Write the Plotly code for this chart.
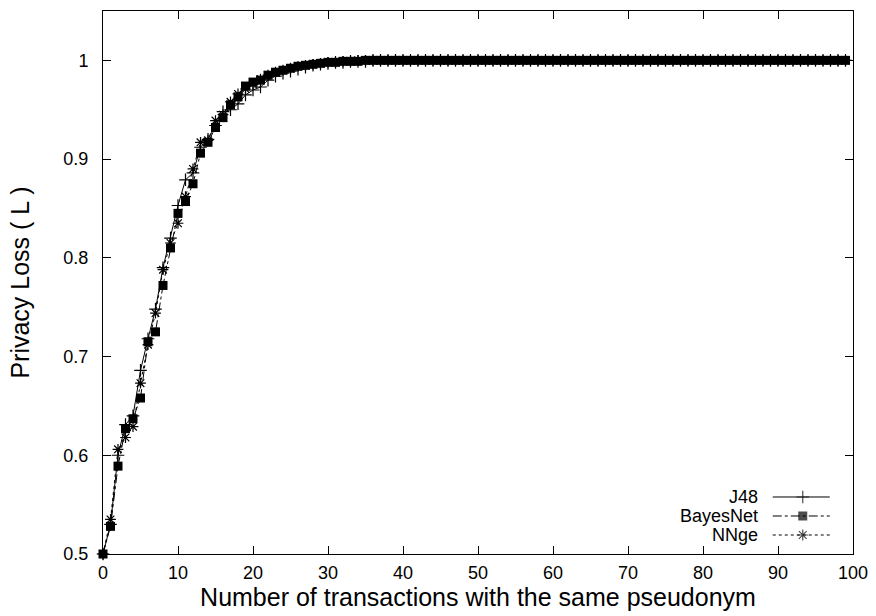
import plotly.graph_objects as go

# ---- data ----
x_vals = list(range(100))

j48 = [0.500, 0.530, 0.600, 0.631, 0.640, 0.686, 0.718, 0.748, 0.790, 0.820,
       0.853, 0.879, 0.886, 0.912, 0.920, 0.934, 0.948, 0.950, 0.956, 0.965,
       0.970, 0.973, 0.980, 0.984, 0.987, 0.989, 0.991, 0.993, 0.995, 0.996,
       0.997, 0.998, 0.998, 0.999, 0.999, 0.999, 1.000, 1.000, 1.000, 1.000,
       1.000, 1.000, 1.000, 1.000, 1.000, 1.000, 1.000, 1.000, 1.000, 1.000,
       1.000, 1.000, 1.000, 1.000, 1.000, 1.000, 1.000, 1.000, 1.000, 1.000,
       1.000, 1.000, 1.000, 1.000, 1.000, 1.000, 1.000, 1.000, 1.000, 1.000,
       1.000, 1.000, 1.000, 1.000, 1.000, 1.000, 1.000, 1.000, 1.000, 1.000,
       1.000, 1.000, 1.000, 1.000, 1.000, 1.000, 1.000, 1.000, 1.000, 1.000,
       1.000, 1.000, 1.000, 1.000, 1.000, 1.000, 1.000, 1.000, 1.000, 1.000]

bayesnet = [0.500, 0.528, 0.589, 0.627, 0.637, 0.658, 0.715, 0.725, 0.772, 0.810,
            0.845, 0.857, 0.875, 0.906, 0.917, 0.932, 0.942, 0.955, 0.963, 0.974,
            0.978, 0.980, 0.985, 0.988, 0.990, 0.992, 0.994, 0.995, 0.996, 0.997,
            0.998, 0.998, 0.999, 0.999, 0.999, 1.000, 1.000, 1.000, 1.000, 1.000,
            1.000, 1.000, 1.000, 1.000, 1.000, 1.000, 1.000, 1.000, 1.000, 1.000,
            1.000, 1.000, 1.000, 1.000, 1.000, 1.000, 1.000, 1.000, 1.000, 1.000,
            1.000, 1.000, 1.000, 1.000, 1.000, 1.000, 1.000, 1.000, 1.000, 1.000,
            1.000, 1.000, 1.000, 1.000, 1.000, 1.000, 1.000, 1.000, 1.000, 1.000,
            1.000, 1.000, 1.000, 1.000, 1.000, 1.000, 1.000, 1.000, 1.000, 1.000,
            1.000, 1.000, 1.000, 1.000, 1.000, 1.000, 1.000, 1.000, 1.000, 1.000]

nnge = [0.500, 0.535, 0.606, 0.618, 0.629, 0.673, 0.712, 0.744, 0.788, 0.815,
        0.835, 0.862, 0.890, 0.917, 0.919, 0.939, 0.945, 0.958, 0.966, 0.971,
        0.976, 0.981, 0.985, 0.988, 0.990, 0.992, 0.994, 0.995, 0.996, 0.997,
        0.998, 0.998, 0.999, 0.999, 1.000, 1.000, 1.000, 1.000, 1.000, 1.000,
        1.000, 1.000, 1.000, 1.000, 1.000, 1.000, 1.000, 1.000, 1.000, 1.000,
        1.000, 1.000, 1.000, 1.000, 1.000, 1.000, 1.000, 1.000, 1.000, 1.000,
        1.000, 1.000, 1.000, 1.000, 1.000, 1.000, 1.000, 1.000, 1.000, 1.000,
        1.000, 1.000, 1.000, 1.000, 1.000, 1.000, 1.000, 1.000, 1.000, 1.000,
        1.000, 1.000, 1.000, 1.000, 1.000, 1.000, 1.000, 1.000, 1.000, 1.000,
        1.000, 1.000, 1.000, 1.000, 1.000, 1.000, 1.000, 1.000, 1.000, 1.000]

series_names = ["J48", "BayesNet", "NNge"]
x_ticks = [0, 10, 20, 30, 40, 50, 60, 70, 80, 90, 100]
y_ticks = [0.5, 0.6, 0.7, 0.8, 0.9, 1.0]
y_tick_labels = ["0.5", "0.6", "0.7", "0.8", "0.9", "1"]

FONT = "Liberation Sans, Arial, sans-serif"
styles = [
    dict(line=dict(color="black", width=1, dash="solid"),
         marker=dict(symbol="cross-thin", size=9, line=dict(color="black", width=1.2))),
    dict(line=dict(color="black", width=1, dash="dashdot"),
         marker=dict(symbol="square", size=9, color="black", line=dict(color="black", width=0))),
    dict(line=dict(color="black", width=1, dash="3px,3px"),
         marker=dict(symbol="asterisk-open", size=9, line=dict(color="black", width=1.2))),
]

fig = go.Figure()
for name, ys, st in zip(series_names, [j48, bayesnet, nnge], styles):
    fig.add_trace(go.Scatter(x=x_vals, y=ys, mode="lines+markers", name=name,
                             line=st["line"], marker=st["marker"], showlegend=False,
                             cliponaxis=False))

# ---- custom gnuplot-style key (text left, sample right), in plot-fraction units ----
key_rows = [0.105, 0.070, 0.035]
key_text_x = 0.876
key_line = [0.893, 0.933, 0.969]
for name, st, ky in zip(series_names, styles, key_rows):
    mk = dict(st["marker"])
    mk["size"] = [0, st["marker"]["size"], 0]
    fig.add_trace(go.Scatter(x=key_line, y=[ky, ky, ky], mode="lines+markers",
                             xaxis="x2", yaxis="y2", line=st["line"], marker=mk,
                             showlegend=False, hoverinfo="skip"))
    fig.add_annotation(x=key_text_x, y=ky, xref="paper", yref="paper", text=name,
                       showarrow=False, xanchor="right", yanchor="middle",
                       font=dict(family=FONT, size=18, color="black"))

axis_common = dict(showgrid=False, zeroline=False, showline=True, linecolor="black",
                   linewidth=1, mirror="ticks", ticks="inside", ticklen=8,
                   tickcolor="black", tickwidth=1, automargin=False,
                   tickfont=dict(family=FONT, size=18, color="black"))

fig.update_layout(
    width=876, height=616,
    margin=dict(l=103, r=23, t=11, b=62),
    paper_bgcolor="white", plot_bgcolor="white",
    font=dict(family=FONT, color="black"),
    xaxis=dict(range=[0, 100], tickvals=x_ticks, ticklabelstandoff=2,
               title=dict(text="Number of transactions with the same pseudonym",
                          font=dict(family=FONT, size=25), standoff=5),
               **axis_common),
    yaxis=dict(range=[0.5, 1.05], tickvals=y_ticks, ticktext=y_tick_labels,
               ticklabelstandoff=10,
               title=dict(text="Privacy Loss ( L )",
                          font=dict(family=FONT, size=25), standoff=26),
               **axis_common),
    xaxis2=dict(range=[0, 1], overlaying="x", visible=False, fixedrange=True),
    yaxis2=dict(range=[0, 1], overlaying="y", visible=False, fixedrange=True),
)

fig.write_html("out.html", config={"displayModeBar": False},
               post_script="document.body.style.margin='0';document.body.style.overflow='hidden';")
